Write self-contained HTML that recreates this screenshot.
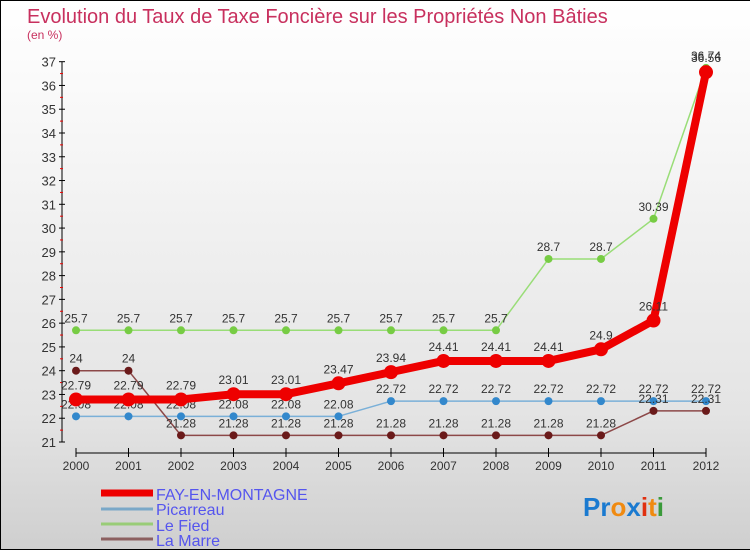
<!DOCTYPE html>
<html><head><meta charset="utf-8"><style>
body{margin:0}
#c{position:relative;width:750px;height:550px;box-sizing:border-box;border:1px solid #000;border-right:none;background:linear-gradient(#fff,#fafafa 15%,#e4e4e4 75%,#cfcfcf);font-family:"Liberation Sans",sans-serif;overflow:hidden}
</style></head><body>
<div id="c">
<svg id="s" width="750" height="550" style="position:absolute;left:0;top:0">
<text x="26" y="22" font-size="20" fill="#c8305e">Evolution du Taux de Taxe Foncière sur les Propriétés Non Bâties</text>
<text x="26" y="38" font-size="12" fill="#c8305e">(en %)</text>
<g id="axes"></g><g id="series"></g>
<g>
<line x1="100" y1="492" x2="152" y2="492" stroke="#ee0000" stroke-width="7"/>
<line x1="100" y1="508" x2="152" y2="508" stroke="#7aa8c8" stroke-width="3"/>
<line x1="100" y1="523" x2="152" y2="523" stroke="#99cc77" stroke-width="3"/>
<line x1="100" y1="538" x2="152" y2="538" stroke="#8c6060" stroke-width="3"/>
<g font-size="16" fill="#5555ee">
<text x="155" y="499">FAY-EN-MONTAGNE</text>
<text x="155" y="514">Picarreau</text>
<text x="155" y="530">Le Fied</text>
<text x="155" y="545">La Marre</text>
</g></g>
<text x="582" y="515" font-size="26" font-weight="bold"><tspan fill="#1a7ad0">Pr</tspan><tspan fill="#f08a10">o</tspan><tspan fill="#1a7ad0">x</tspan><tspan fill="#e03010">i</tspan><tspan fill="#f08a10">t</tspan><tspan fill="#3a9a3a">i</tspan></text>
</svg>
</div>
<script>
const years=[2000,2001,2002,2003,2004,2005,2006,2007,2008,2009,2010,2011,2012];
const fay=[22.79,22.79,22.79,23.01,23.01,23.47,23.94,24.41,24.41,24.41,24.9,26.11,36.56];
const picarreau=[22.08,22.08,22.08,22.08,22.08,22.08,22.72,22.72,22.72,22.72,22.72,22.72,22.72];
const leFied=[25.7,25.7,25.7,25.7,25.7,25.7,25.7,25.7,25.7,28.7,28.7,30.39,36.74];
const laMarre=[24,24,21.28,21.28,21.28,21.28,21.28,21.28,21.28,21.28,21.28,22.31,22.31];
const yTicks=[21,22,23,24,25,26,27,28,29,30,31,32,33,34,35,36,37];
const NS="http://www.w3.org/2000/svg";
const X=i=>75+i*52.5, Y=v=>441-(v-21)*23.77;
function mk(p,t,a){const e=document.createElementNS(NS,t);for(const k in a)e.setAttribute(k,a[k]);p.appendChild(e);return e;}
const ax=document.getElementById('axes');
let yl=mk(ax,'line',{x1:61,y1:Y(37),x2:61,y2:Y(21),stroke:'#000','stroke-width':1});


yTicks.forEach(v=>{
 mk(ax,'line',{x1:58,y1:Y(v),x2:64,y2:Y(v),stroke:'#000'});
 if(v<37)mk(ax,'line',{x1:59,y1:Y(v+0.5),x2:62,y2:Y(v+0.5),stroke:'#e00'});
 const t=mk(ax,'text',{x:55,y:Y(v)+5,'text-anchor':'end','font-size':13,fill:'#333'});
 t.textContent=v;
 
 
});
let xl=mk(ax,'line',{x1:X(0),y1:452,x2:X(12),y2:452,stroke:'#000'});


years.forEach((y,i)=>{
 mk(ax,'line',{x1:X(i),y1:447,x2:X(i),y2:456,stroke:'#000'});
 const t=mk(ax,'text',{x:X(i),y:469,'text-anchor':'middle','font-size':12,fill:'#333'});
 t.textContent=y;
 
 
});
const sg=document.getElementById('series');
function draw(vals,color,dot,w,r,name,ldy){
 const g=mk(sg,'g',{});
 
 
 mk(g,'polyline',{points:vals.map((v,i)=>X(i)+','+Y(v)).join(' '),fill:'none',stroke:color,'stroke-width':w,'stroke-linejoin':'round'});
 vals.forEach((v,i)=>{
  const c=mk(g,'circle',{cx:X(i),cy:Y(v),r:r,fill:dot});
  
  
  const t=mk(g,'text',{x:X(i),y:Y(v)-ldy,'text-anchor':'middle','font-size':12,fill:'#333'});
  t.textContent=v;
  
  
 });
}
draw(leFied,'#99dd77','#77cc44',1.5,4,'le-fied',8);
draw(picarreau,'#7ab0d8','#3388cc',1.5,4,'picarreau',8);
draw(laMarre,'#8c4848','#6a1a1a',1.5,4,'la-marre',8);
draw(fay,'#ee0000','#ee0000',8,7,'fay-en-montagne',10);
</script>
</body></html>
